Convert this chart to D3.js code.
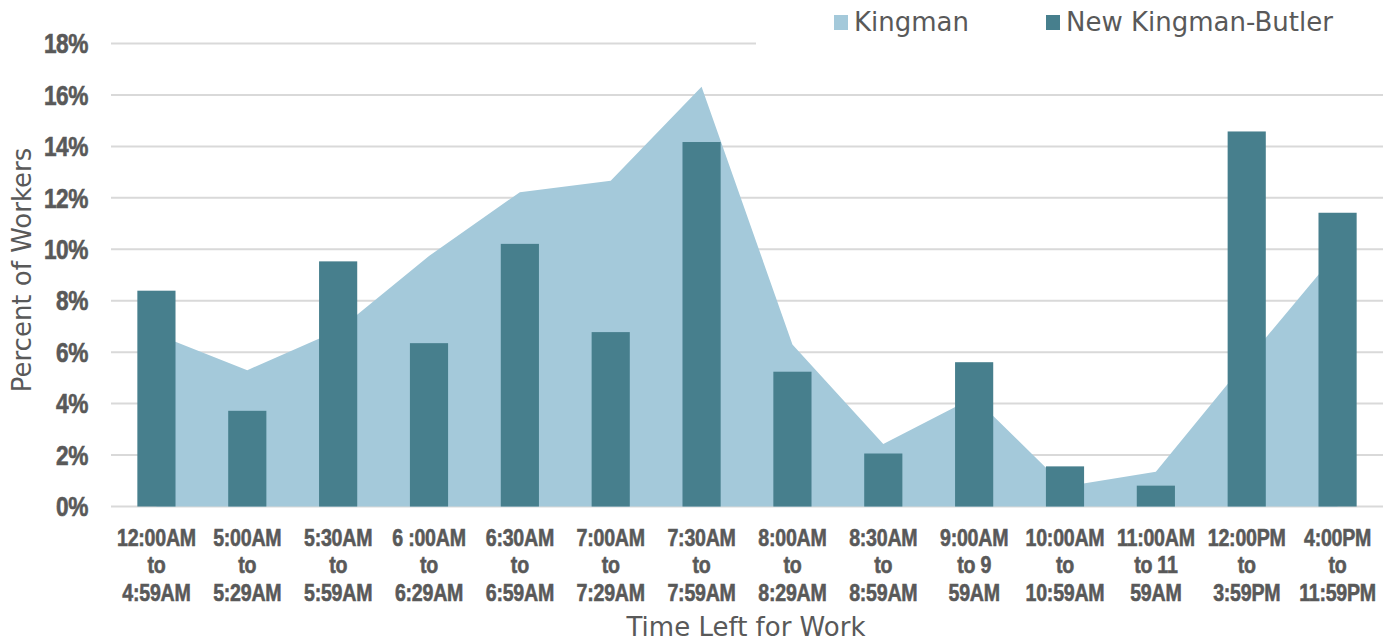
<!DOCTYPE html>
<html>
<head>
<meta charset="utf-8">
<script src="https://cdn.jsdelivr.net/npm/d3@7"></script>
<style>
  html, body { margin: 0; padding: 0; background: #fff; }
  svg { display: block; }
</style>
</head>
<body>
<svg id="chart" width="1385" height="641"></svg>
<script>
const categories = [
  ["12:00AM", "to", "4:59AM"],
  ["5:00AM", "to", "5:29AM"],
  ["5:30AM", "to", "5:59AM"],
  ["6 :00AM", "to", "6:29AM"],
  ["6:30AM", "to", "6:59AM"],
  ["7:00AM", "to", "7:29AM"],
  ["7:30AM", "to", "7:59AM"],
  ["8:00AM", "to", "8:29AM"],
  ["8:30AM", "to", "8:59AM"],
  ["9:00AM", "to 9", "59AM"],
  ["10:00AM", "to", "10:59AM"],
  ["11:00AM", "to 11", "59AM"],
  ["12:00PM", "to", "3:59PM"],
  ["4:00PM", "to", "11:59PM"]
];
const kingman = [6.7, 5.3, 6.85, 9.74, 12.22, 12.66, 16.32, 6.3, 2.43, 4.25, 0.78, 1.35, 5.67, 9.9];
const newKingmanButler = [8.39, 3.72, 9.53, 6.35, 10.21, 6.78, 14.17, 5.24, 2.06, 5.61, 1.56, 0.81, 14.58, 11.42];
const yTicks = [0, 2, 4, 6, 8, 10, 12, 14, 16, 18];
const seriesNames = ["Kingman", "New Kingman-Butler"];

const colors = { area: "#a4c9da", bar: "#477f8d", grid: "#d9d9d9", text: "#595959" };
const svg = d3.select("#chart");
const plotLeft = 111, plotRight = 1383, plotTop = 43.5, plotBottom = 506.5;
const boldFont = "'Liberation Sans', Arial, sans-serif";

const keys = categories.map((c, i) => i);
const x = d3.scaleBand().domain(keys).range([plotLeft, plotRight]).paddingInner(0.58).paddingOuter(0.29);
const y = d3.scaleLinear().domain([0, 18]).range([plotBottom, plotTop]);
const cx = i => x(i) + x.bandwidth() / 2;

// gridlines
svg.append("g").selectAll("line").data(yTicks).join("line")
  .attr("x1", plotLeft).attr("x2", plotRight)
  .attr("y1", d => y(d)).attr("y2", d => y(d))
  .attr("stroke", colors.grid).attr("stroke-width", 2);

// y tick labels (condensed bold via horizontal scale)
svg.append("g").selectAll("text").data(yTicks).join("text")
  .attr("transform", d => `translate(88,${y(d)}) scale(0.84,1)`)
  .attr("dy", "0.36em")
  .attr("text-anchor", "end")
  .attr("font-family", boldFont)
  .attr("font-weight", "bold").attr("font-size", 27)
  .attr("letter-spacing", -0.5)
  .attr("fill", colors.text)
  .attr("stroke", colors.text).attr("stroke-width", 0.6)
  .text(d => d + "%");

// area
const area = d3.area()
  .x((d, i) => cx(i))
  .y0(y(0))
  .y1(d => y(d));
svg.append("path").datum(kingman)
  .attr("d", area)
  .attr("fill", colors.area);

// bars
svg.append("g").selectAll("rect").data(newKingmanButler).join("rect")
  .attr("x", (d, i) => x(i))
  .attr("width", x.bandwidth())
  .attr("y", d => y(d))
  .attr("height", d => y(0) - y(d))
  .attr("fill", colors.bar);

// x tick labels
const xl = svg.append("g").selectAll("text").data(categories).join("text")
  .attr("transform", (d, i) => `translate(${cx(i)},0) scale(0.8,1)`)
  .attr("text-anchor", "middle")
  .attr("font-family", boldFont)
  .attr("font-weight", "bold").attr("font-size", 24.5)
  .attr("letter-spacing", -0.3)
  .attr("fill", colors.text)
  .attr("stroke", colors.text).attr("stroke-width", 0.6);
xl.each(function(lines) {
  d3.select(this).selectAll("tspan").data(lines).join("tspan")
    .attr("x", 0)
    .attr("y", (l, j) => 546 + j * 27.5)
    .text(l => l);
});

// axis titles
svg.append("text")
  .attr("x", 746).attr("y", 636)
  .attr("text-anchor", "middle")
  .attr("font-family", "'DejaVu Sans', sans-serif")
  .attr("font-size", 26)
  .attr("fill", colors.text)
  .text("Time Left for Work");

svg.append("text")
  .attr("transform", "translate(31,270) rotate(-90)")
  .attr("text-anchor", "middle")
  .attr("font-family", "'DejaVu Sans', sans-serif")
  .attr("font-size", 26)
  .attr("fill", colors.text)
  .text("Percent of Workers");

// legend
svg.append("rect").attr("x", 756).attr("y", 0).attr("width", 629).attr("height", 48).attr("fill", "#fff");
const legendX = [834, 1046];
const lg = svg.append("g").selectAll("g").data(seriesNames).join("g")
  .attr("transform", (d, i) => `translate(${legendX[i]},0)`);
lg.append("rect").attr("x", 0).attr("y", 15).attr("width", 14).attr("height", 15)
  .attr("fill", (d, i) => i === 0 ? colors.area : colors.bar);
lg.append("text").attr("x", 20).attr("y", 31)
  .attr("font-family", "'DejaVu Sans', sans-serif")
  .attr("font-size", 26)
  .attr("fill", colors.text)
  .text(d => d);
</script>
</body>
</html>
